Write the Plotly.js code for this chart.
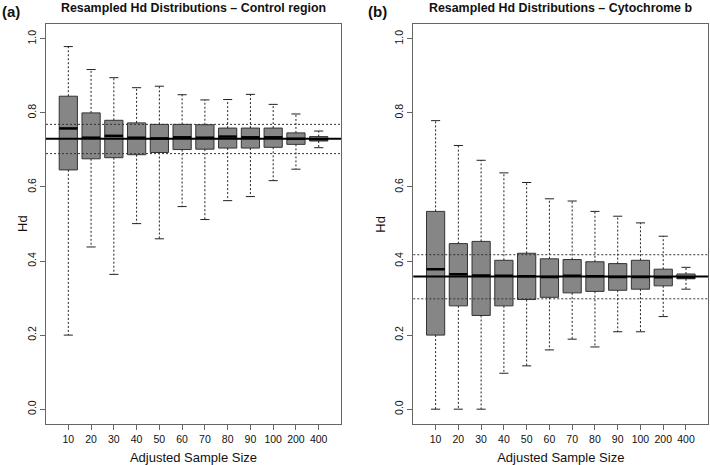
<!DOCTYPE html>
<html>
<head>
<meta charset="utf-8">
<script src="https://cdn.plot.ly/plotly-3.0.1.min.js"></script>
<style>html,body{margin:0;padding:0;background:#fff;}#chart{width:710px;height:465px;}</style>
</head>
<body>
<div id="chart"></div>
<script>
// ---- Data ----
const categories = ["10","20","30","40","50","60","70","80","90","100","200","400"];

// Panel (a): Control region
const crLower  = [0.200,0.438,0.364,0.501,0.460,0.547,0.512,0.563,0.574,0.617,0.648,0.706];
const crQ1     = [0.646,0.676,0.679,0.687,0.693,0.701,0.702,0.705,0.705,0.707,0.715,0.724];
const crMedian = [0.758,0.733,0.738,0.733,0.731,0.734,0.733,0.736,0.734,0.734,0.730,0.729];
const crQ3     = [0.845,0.800,0.780,0.773,0.769,0.769,0.768,0.759,0.759,0.759,0.746,0.736];
const crUpper  = [0.979,0.917,0.895,0.868,0.872,0.849,0.835,0.836,0.850,0.823,0.797,0.751];
const crObserved = 0.730;
const crBounds   = [0.690, 0.769];

// Panel (b): Cytochrome b
const cbLower  = [0.000,0.000,0.000,0.097,0.117,0.160,0.189,0.168,0.209,0.209,0.250,0.324];
const cbQ1     = [0.200,0.279,0.253,0.279,0.296,0.302,0.314,0.318,0.321,0.324,0.333,0.352];
const cbMedian = [0.378,0.364,0.361,0.360,0.359,0.357,0.360,0.359,0.357,0.357,0.356,0.356];
const cbQ3     = [0.534,0.447,0.453,0.402,0.421,0.406,0.404,0.398,0.393,0.402,0.378,0.365];
const cbUpper  = [0.779,0.712,0.672,0.638,0.612,0.568,0.562,0.534,0.521,0.503,0.467,0.383];
const cbObserved = 0.358;
const cbBounds   = [0.298, 0.417];

const yTicks = [0, 0.2, 0.4, 0.6, 0.8, 1.0];
const yTickText = ["0.0","0.2","0.4","0.6","0.8","1.0"];

// ---- Styles ----
const BOXW = 0.8, CAPW = 0.4;
const FONT = "Liberation Sans, Arial, Helvetica, sans-serif";
const positions = categories.map((c, i) => i + 1);

function panelTraces(lower, q1, med, q3, upper, xa, ya) {
  const traces = [];
  traces.push({
    type: "box", x: positions, q1: q1, median: med, q3: q3,
    lowerfence: q1, upperfence: q3, width: BOXW, whiskerwidth: 0,
    fillcolor: "#868686", line: {color: "#333333", width: 1},
    boxpoints: false, hoverinfo: "skip", showlegend: false, xaxis: xa, yaxis: ya
  });
  // dashed whiskers
  const wx = [], wy = [];
  positions.forEach((p, i) => {
    wx.push(p, p, null, p, p, null);
    wy.push(q3[i], upper[i], null, q1[i], lower[i], null);
  });
  traces.push({type: "scatter", mode: "lines", x: wx, y: wy,
    line: {color: "#222", width: 1, dash: "2px,2px"}, hoverinfo: "skip", showlegend: false, xaxis: xa, yaxis: ya});
  // caps
  const cx = [], cy = [];
  positions.forEach((p, i) => {
    cx.push(p - CAPW/2, p + CAPW/2, null, p - CAPW/2, p + CAPW/2, null);
    cy.push(upper[i], upper[i], null, lower[i], lower[i], null);
  });
  traces.push({type: "scatter", mode: "lines", x: cx, y: cy,
    line: {color: "#222", width: 1}, hoverinfo: "skip", showlegend: false, xaxis: xa, yaxis: ya});
  // thick medians
  const mx = [], my = [];
  positions.forEach((p, i) => {
    mx.push(p - BOXW/2, p + BOXW/2, null);
    my.push(med[i], med[i], null);
  });
  traces.push({type: "scatter", mode: "lines", x: mx, y: my,
    line: {color: "#000", width: 2.5}, hoverinfo: "skip", showlegend: false, xaxis: xa, yaxis: ya});
  return traces;
}

const data = [].concat(
  panelTraces(crLower, crQ1, crMedian, crQ3, crUpper, "x", "y"),
  panelTraces(cbLower, cbQ1, cbMedian, cbQ3, cbUpper, "x2", "y2")
);

function refShapes(obs, bounds, xa, ya) {
  const s = [{type: "line", xref: xa + " domain", yref: ya, x0: 0, x1: 1, y0: obs, y1: obs,
    line: {color: "#000", width: 2}, layer: "above"}];
  bounds.forEach(b => s.push({type: "line", xref: xa + " domain", yref: ya, x0: 0, x1: 1, y0: b, y1: b,
    line: {color: "#333", width: 1, dash: "2px,2px"}, layer: "above"}));
  return s;
}

function xAxis(domain, anchor) {
  return {domain: domain, anchor: anchor, range: [0.02, 12.98], tickvals: positions, ticktext: categories,
    showline: true, mirror: true, linecolor: "#666", linewidth: 1, showgrid: false, zeroline: false,
    ticks: "outside", ticklen: 5, tickcolor: "#666", tickfont: {size: 10.5, color: "#111"},
    title: {text: "Adjusted Sample Size", font: {size: 13, color: "#111"}, standoff: 9}, automargin: false};
}
function yAxis(anchor) {
  return {domain: [0.0882, 0.9484], anchor: anchor, range: [-0.04, 1.04], tickvals: yTicks, ticktext: yTickText,
    tickangle: -90, showline: true, mirror: true, linecolor: "#666", linewidth: 1, showgrid: false, zeroline: false,
    ticks: "outside", ticklen: 5, tickcolor: "#666", tickfont: {size: 10.5, color: "#111"}, automargin: false};
}

const yMid = (0.0882 + 0.9484) / 2;
const layout = {
  width: 710, height: 465, margin: {l: 0, r: 0, t: 0, b: 0},
  paper_bgcolor: "#fff", plot_bgcolor: "#fff",
  font: {family: FONT, color: "#111"},
  xaxis: xAxis([0.0648, 0.4803], "y"),
  yaxis: yAxis("x"),
  xaxis2: xAxis([0.5821, 0.9976], "y2"),
  yaxis2: yAxis("x2"),
  shapes: [].concat(refShapes(crObserved, crBounds, "x", "y"), refShapes(cbObserved, cbBounds, "x2", "y2")),
  annotations: [
    {text: "<b>Resampled Hd Distributions – Control region</b>", xref: "paper", yref: "paper",
      x: (0.0648 + 0.4803) / 2, y: 1 - 8/465, xanchor: "center", yanchor: "middle", showarrow: false,
      font: {size: 12.4, color: "#111"}},
    {text: "<b>Resampled Hd Distributions – Cytochrome b</b>", xref: "paper", yref: "paper",
      x: (0.5821 + 0.9976) / 2, y: 1 - 8/465, xanchor: "center", yanchor: "middle", showarrow: false,
      font: {size: 12.4, color: "#111"}},
    {text: "<b>(a)</b>", xref: "paper", yref: "paper", x: 0, y: 1 - 12/465, xanchor: "left", yanchor: "middle",
      showarrow: false, font: {size: 15, color: "#111"}},
    {text: "<b>(b)</b>", xref: "paper", yref: "paper", x: 366/710, y: 1 - 12/465, xanchor: "left", yanchor: "middle",
      showarrow: false, font: {size: 15, color: "#111"}},
    {text: "Hd", xref: "paper", yref: "paper", x: 23/710, y: yMid, xanchor: "center", yanchor: "middle",
      textangle: -90, showarrow: false, font: {size: 13, color: "#111"}},
    {text: "Hd", xref: "paper", yref: "paper", x: 380.7/710, y: yMid, xanchor: "center", yanchor: "middle",
      textangle: -90, showarrow: false, font: {size: 13, color: "#111"}}
  ]
};

Plotly.newPlot("chart", data, layout, {displayModeBar: false, staticPlot: true});
</script>
</body>
</html>
